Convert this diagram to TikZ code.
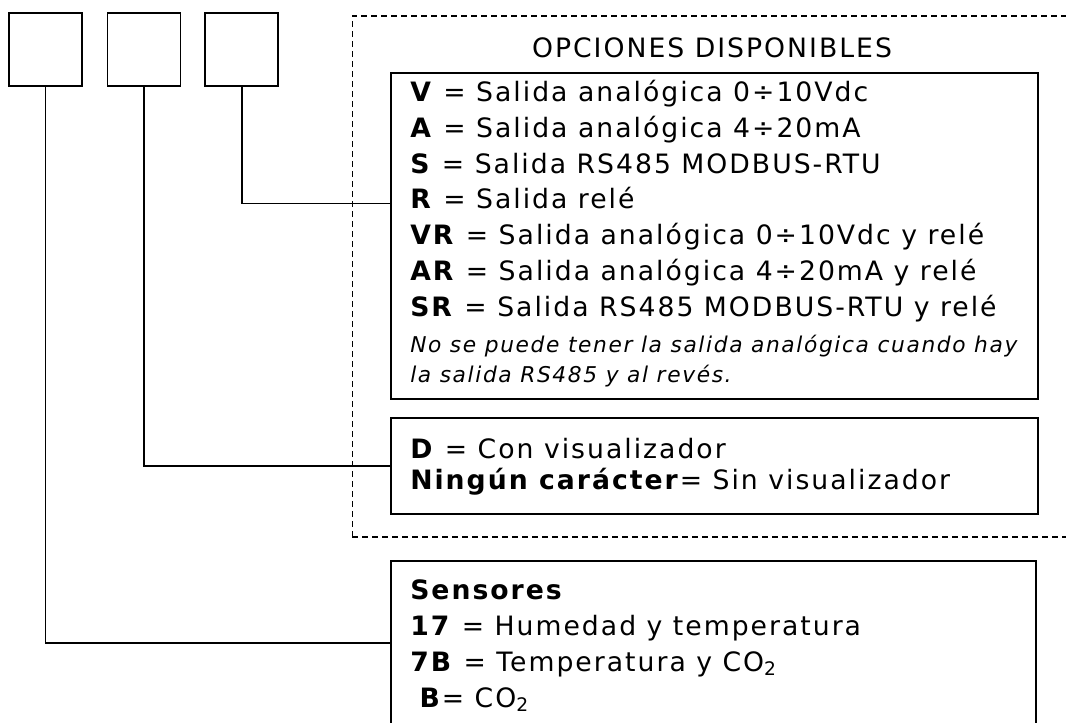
\documentclass[tikz,border=0pt]{standalone}
\usepackage{fontspec}
\setmainfont{DejaVu Sans}[LetterSpace=7.5]
\usetikzlibrary{positioning}

\begin{document}
\begin{tikzpicture}[
  x=0.75pt, y=-0.75pt,
  font=\fontsize{20}{24}\selectfont,
  code/.style={rectangle, draw, line width=1.2pt, minimum size=54.75pt, inner sep=0pt},
  area/.style={rectangle, draw, line width=1.2pt, dash pattern=on 4.5pt off 3pt,
               anchor=north west, inner sep=0pt},
  panel/.style={rectangle, draw, line width=1.2pt, anchor=north west, inner sep=0pt,
                minimum width=485.25pt},
  row/.style={anchor=base west, inner sep=0pt},
  note/.style={row, font=\fontsize{16.3}{19}\selectfont\itshape},
  link/.style={line width=1.2pt}]
  \useasboundingbox (0,0) rectangle (1066,722);
  \clip (0,0) rectangle (1066,722);
  % code boxes
  \node[code] (c1) at (45.5,49.5) {};
  \node[code, right=18pt of c1] (c2) {};
  \node[code, right=17.25pt of c2] (c3) {};
  % available options
  \node[area, minimum width=560pt, minimum height=390.75pt] (area) at (351.5,15) {};
  \node[anchor=base] (titulo) at (712,57) {OPCIONES DISPONIBLES};
  \node[panel, minimum height=244.5pt] (salida) at (390,72) {};
  \node[row] (v) at (410,101.5) {\textbf{V} = Salida analógica 0÷10Vdc};
  \node[row] (a) at (410,137.3) {\textbf{A} = Salida analógica 4÷20mA};
  \node[row] (s) at (410,173.1) {\textbf{S} = Salida RS485 MODBUS-RTU};
  \node[row] (r) at (410,208.9) {\textbf{R} = Salida relé};
  \node[row] (vr) at (410,244.7) {\textbf{VR} = Salida analógica 0÷10Vdc y relé};
  \node[row] (ar) at (410,280.5) {\textbf{AR} = Salida analógica 4÷20mA y relé};
  \node[row] (sr) at (410,316.3) {\textbf{SR} = Salida RS485 MODBUS-RTU y relé};
  \node[note] (n1) at (410,352.5) {No se puede tener la salida analógica cuando hay};
  \node[note] (n2) at (410,382.5) {la salida RS485 y al revés.};
  \node[panel, minimum height=72pt] (display) at (390,417) {};
  \node[row] (d) at (410,458.3) {\textbf{D} = Con visualizador};
  \node[row] (nd) at (410,489.8) {\textbf{Ningún carácter}= Sin visualizador};
  % sensors
  \node[panel, minimum width=483.75pt, minimum height=150pt] (sensores) at (390,560) {};
  \node[row] (st) at (410,599.5) {\textbf{Sensores}};
  \node[row] (s17) at (410,635.5) {\textbf{17} = Humedad y temperatura};
  \node[row] (s7b) at (410,671.5) {\textbf{7B} = Temperatura y CO\textsubscript{2}};
  \node[row] (sb) at (410,707.5) {\hspace{0.35em}\textbf{B}= CO\textsubscript{2}};
  % connectors
  \coordinate (salida-in) at (390,203.3);
  \coordinate (sens-in) at (390,642.7);
  \draw[link] (c3.south) |- (salida-in);
  \draw[link] (c2.south) |- (display.west);
  \draw[link] (c1.south) |- (sens-in);
\end{tikzpicture}
\end{document}
